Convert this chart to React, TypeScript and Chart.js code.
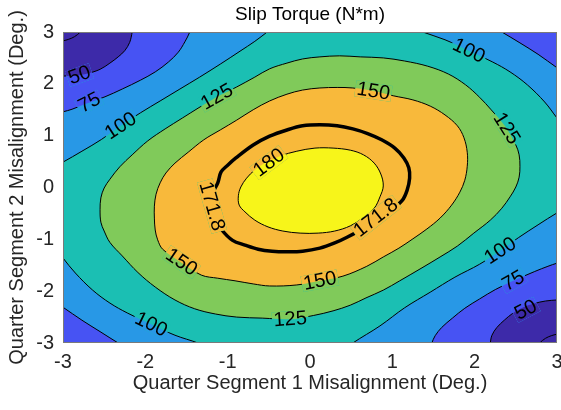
import React, { useEffect, useRef } from 'react';
import { Chart, registerables } from 'chart.js';

Chart.register(...registerables);

const TITLE = 'Slip Torque (N*m)';
const X_TITLE = 'Quarter Segment 1 Misalignment (Deg.)';
const Y_TITLE = 'Quarter Segment 2 Misalignment (Deg.)';
const FONT = "'Liberation Sans', Arial, Helvetica, sans-serif";

const xTicks = [-3, -2, -1, 0, 1, 2, 3];
const yTicks = [-3, -2, -1, 0, 1, 2, 3];
const xTickLabels = ['-3', '-2', '-1', '0', '1', '2', '3'];
const yTickLabels = ['-3', '-2', '-1', '0', '1', '2', '3'];

// band colours (parula), low -> high
const colDarkBlue = '#3d2aa9';
const colBlue = '#4753f3';
const colLightBlue = '#2898e6';
const colTeal = '#1bbfb3';
const colGreen = '#80ca5a';
const colOrange = '#f8b93b';
const colYellow = '#f7f51a';

// contour lines, [x, y] (ends run just past the axes)
const c25TL = [[-3.12, 2.8], [-3.0, 2.83], [-2.93, 2.86], [-2.86, 2.91], [-2.79, 3.0], [-2.75, 3.1]];
const c25BR = [[3.12, -2.8], [3.0, -2.83], [2.93, -2.86], [2.86, -2.91], [2.79, -3.0], [2.75, -3.1]];

const c50TL = [[-3.15, 2.14], [-3.0, 2.15], [-2.85, 2.16], [-2.7, 2.2], [-2.55, 2.28], [-2.43, 2.4], [-2.33, 2.52], [-2.25, 2.64], [-2.19, 2.8], [-2.16, 3.0], [-2.15, 3.15]];
const c50BR = [[3.15, -2.16], [3.0, -2.17], [2.86, -2.19], [2.72, -2.24], [2.58, -2.32], [2.46, -2.43], [2.36, -2.56], [2.27, -2.7], [2.21, -2.85], [2.19, -3.0], [2.18, -3.15]];

const c75TL = [[-3.15, 1.4], [-3.0, 1.46], [-2.89, 1.51], [-2.73, 1.61], [-2.49, 1.75], [-2.28, 1.9], [-2.06, 2.07], [-1.88, 2.23], [-1.72, 2.42], [-1.6, 2.61], [-1.52, 2.81], [-1.46, 3.0], [-1.43, 3.15]];
const c75BR = [[3.15, -1.4], [3.0, -1.46], [2.89, -1.52], [2.73, -1.62], [2.47, -1.8], [2.25, -1.97], [2.06, -2.15], [1.88, -2.33], [1.73, -2.52], [1.6, -2.7], [1.52, -2.86], [1.48, -3.0], [1.45, -3.15]];
const c75TR = [[2.2, 3.12], [2.33, 3.0], [2.55, 2.79], [2.77, 2.57], [3.0, 2.31], [3.12, 2.18]];
const c75BL = [[-3.12, -2.18], [-3.0, -2.31], [-2.77, -2.56], [-2.55, -2.78], [-2.33, -3.0], [-2.2, -3.12]];

const c100TL = [[-3.2, 0.32], [-3.0, 0.49], [-2.77, 0.7], [-2.53, 0.93], [-2.3, 1.19], [-2.06, 1.44], [-1.82, 1.67], [-1.58, 1.9], [-1.34, 2.13], [-1.09, 2.38], [-0.85, 2.63], [-0.67, 2.82], [-0.52, 3.0], [-0.4, 3.15]];
const c100BR = [[3.2, -0.32], [3.0, -0.49], [2.77, -0.72], [2.53, -0.97], [2.31, -1.22], [2.06, -1.48], [1.76, -1.73], [1.46, -2.02], [1.15, -2.32], [0.85, -2.67], [0.52, -3.0], [0.4, -3.15]];
const c100TR = [[1.22, 3.1], [1.37, 3.0], [1.64, 2.85], [1.93, 2.64], [2.22, 2.42], [2.43, 2.23], [2.64, 1.98], [2.85, 1.65], [3.0, 1.34], [3.08, 1.18]];
const c100BL = [[-3.08, -1.18], [-3.0, -1.36], [-2.85, -1.65], [-2.64, -1.98], [-2.43, -2.23], [-2.22, -2.42], [-1.93, -2.64], [-1.64, -2.85], [-1.36, -3.0], [-1.22, -3.1]];

const c125 = [[-1.13, 1.75], [-0.89, 1.94], [-0.67, 2.13], [-0.49, 2.29], [-0.28, 2.4], [-0.09, 2.48], [0.12, 2.52], [0.36, 2.54], [0.61, 2.52], [0.89, 2.5], [1.15, 2.44], [1.43, 2.34], [1.68, 2.19], [1.89, 1.98], [2.06, 1.74], [2.2, 1.5], [2.37, 1.18], [2.5, 0.82], [2.54, 0.63], [2.55, 0.41], [2.54, 0.2], [2.5, 0.01], [2.43, -0.18], [2.33, -0.4], [2.19, -0.63], [1.99, -0.88], [1.79, -1.13], [1.58, -1.34], [1.36, -1.55], [1.09, -1.8], [0.89, -1.98], [0.68, -2.13], [0.49, -2.27], [0.28, -2.38], [0.04, -2.47], [-0.24, -2.54], [-0.58, -2.52], [-0.89, -2.5], [-1.15, -2.44], [-1.4, -2.34], [-1.64, -2.17], [-1.88, -1.92], [-2.09, -1.64], [-2.28, -1.32], [-2.43, -1.06], [-2.5, -0.84], [-2.54, -0.67], [-2.55, -0.43], [-2.54, -0.2], [-2.5, -0.01], [-2.43, 0.16], [-2.31, 0.4], [-2.16, 0.63], [-1.97, 0.9], [-1.76, 1.13], [-1.55, 1.34], [-1.36, 1.53]];

const c150 = [[-1.57, -1.44], [-1.79, -1.19], [-1.85, -1.01], [-1.88, -0.82], [-1.89, -0.59], [-1.89, -0.36], [-1.87, -0.13], [-1.82, 0.09], [-1.75, 0.28], [-1.64, 0.47], [-1.48, 0.68], [-1.29, 0.92], [-1.09, 1.11], [-0.89, 1.3], [-0.69, 1.5], [-0.49, 1.67], [-0.28, 1.8], [-0.09, 1.88], [0.12, 1.92], [0.33, 1.93], [0.52, 1.92], [0.77, 1.86], [1.01, 1.77], [1.25, 1.69], [1.46, 1.57], [1.64, 1.4], [1.79, 1.19], [1.87, 0.96], [1.91, 0.68], [1.91, 0.41], [1.88, 0.14], [1.82, -0.09], [1.72, -0.34], [1.58, -0.59], [1.42, -0.8], [1.25, -0.99], [1.08, -1.17], [0.89, -1.34], [0.69, -1.52], [0.4, -1.71], [0.12, -1.8], [-0.16, -1.88], [-0.49, -1.9], [-0.69, -1.86], [-0.91, -1.8], [-1.12, -1.75], [-1.32, -1.69]];

const c172 = [[-1.2, -0.32], [-1.18, -0.1], [-1.12, 0.09], [-1.08, 0.3], [-1.0, 0.43], [-0.9, 0.57], [-0.69, 0.82], [-0.49, 0.99], [-0.28, 1.11], [-0.09, 1.19], [0.12, 1.21], [0.33, 1.19], [0.52, 1.13], [0.7, 1.04], [0.87, 0.92], [1.03, 0.76], [1.14, 0.57], [1.2, 0.38], [1.21, 0.18], [1.18, -0.05], [1.12, -0.25], [0.98, -0.44], [0.8, -0.6], [0.63, -0.8], [0.45, -0.96], [0.3, -1.07], [0.12, -1.17], [-0.09, -1.23], [-0.28, -1.24], [-0.46, -1.23], [-0.63, -1.19], [-0.79, -1.11], [-0.94, -1.02], [-1.07, -0.82], [-1.16, -0.58]];

const c180 = [[-0.53, 0.49], [-0.36, 0.61], [-0.16, 0.7], [0.06, 0.76], [0.28, 0.76], [0.49, 0.72], [0.65, 0.63], [0.78, 0.47], [0.86, 0.26], [0.89, 0.03], [0.85, -0.18], [0.78, -0.4], [0.64, -0.59], [0.49, -0.74], [0.3, -0.84], [0.1, -0.88], [-0.12, -0.88], [-0.33, -0.84], [-0.51, -0.76], [-0.67, -0.63], [-0.79, -0.47], [-0.86, -0.34], [-0.87, -0.16], [-0.84, 0.01], [-0.77, 0.18], [-0.67, 0.34]];

// off-axes corners used to close the corner regions
const cornerTL = [-3.4, 3.4];
const cornerTR = [3.4, 3.4];
const cornerBL = [-3.4, -3.4];
const cornerBR = [3.4, -3.4];

// contour labels: text, x, y, rotation (deg)
const contourLabels: [string, number, number, number][] = [
  ['50', -2.8, 2.17, -20],
  ['75', -2.68, 1.64, -27],
  ['100', -2.3, 1.19, -33],
  ['125', -1.13, 1.75, -29],
  ['100', 1.93, 2.64, 26],
  ['125', 2.39, 1.14, 58],
  ['150', 0.77, 1.86, 9],
  ['180', -0.5, 0.48, -37],
  ['171.8', -1.19, -0.36, 74],
  ['171.8', 0.8, -0.58, -38],
  ['150', -1.56, -1.44, 34],
  ['150', 0.12, -1.8, -11],
  ['125', -0.24, -2.54, -4],
  ['100', -1.93, -2.64, 26],
  ['100', 2.31, -1.22, -33],
  ['75', 2.47, -1.8, -30],
  ['50', 2.62, -2.36, -28],
];

type XY = number[][];
const toPts = (a: XY) => a.map(([x, y]) => ({ x, y }));
const closeCorner = (c: XY, corner: number[]) => [...c, corner, c[0]];
const closeLoop = (c: XY) => [...c, c[0]];

const regions: [XY, string][] = [
  [closeCorner(c100TL, cornerTL), colLightBlue],
  [closeCorner(c100TR, cornerTR), colLightBlue],
  [closeCorner(c100BL, cornerBL), colLightBlue],
  [closeCorner(c100BR, cornerBR), colLightBlue],
  [closeCorner(c75TL, cornerTL), colBlue],
  [closeCorner(c75TR, cornerTR), colBlue],
  [closeCorner(c75BL, cornerBL), colBlue],
  [closeCorner(c75BR, cornerBR), colBlue],
  [closeCorner(c50TL, cornerTL), colDarkBlue],
  [closeCorner(c50BR, cornerBR), colDarkBlue],
  [closeCorner(c25TL, cornerTL), colDarkBlue],
  [closeCorner(c25BR, cornerBR), colDarkBlue],
  [closeLoop(c125), colGreen],
  [closeLoop(c150), colOrange],
  [closeLoop(c180), colYellow],
];

const LABEL_SIZE = 20;

const decorPlugin = {
  id: 'contourDecor',
  beforeDatasetsDraw(chart: any) {
    const { ctx, chartArea: a } = chart;
    ctx.save();
    ctx.fillStyle = colTeal;
    ctx.fillRect(a.left, a.top, a.right - a.left, a.bottom - a.top);
    ctx.restore();
  },
  afterDatasetsDraw(chart: any) {
    const { ctx, chartArea: a, scales } = chart;
    const metas = chart.getSortedVisibleDatasetMetas().slice().reverse();
    const fills = metas.filter((m: any) => chart.data.datasets[m.index].fill === 'shape');
    ctx.save();
    ctx.font = `${LABEL_SIZE}px ${FONT}`;
    for (const [text, x, y, ang] of contourLabels) {
      const px = scales.x.getPixelForValue(x);
      const py = scales.y.getPixelForValue(y);
      const w = ctx.measureText(text).width + 3;
      const h = 16;
      const r = (ang * Math.PI) / 180;
      ctx.save();
      ctx.beginPath();
      ctx.rect(a.left, a.top, a.right - a.left, a.bottom - a.top);
      ctx.clip();
      ctx.translate(px, py);
      ctx.rotate(r);
      ctx.beginPath();
      ctx.rect(-w / 2, -h / 2, w, h);
      ctx.rotate(-r);
      ctx.translate(-px, -py);
      ctx.clip();
      ctx.fillStyle = colTeal;
      ctx.fillRect(a.left, a.top, a.right - a.left, a.bottom - a.top);
      for (const m of fills) {
        const line = m.dataset;
        ctx.beginPath();
        if (line && typeof line.path === 'function') {
          line.path(ctx);
        } else {
          m.data.forEach((p: any, i: number) => (i ? ctx.lineTo(p.x, p.y) : ctx.moveTo(p.x, p.y)));
        }
        ctx.closePath();
        ctx.fillStyle = chart.data.datasets[m.index].backgroundColor;
        ctx.fill();
      }
      ctx.restore();
      ctx.save();
      ctx.translate(px, py);
      ctx.rotate(r);
      ctx.fillStyle = '#000';
      ctx.textAlign = 'center';
      ctx.textBaseline = 'middle';
      ctx.fillText(text, 0, 0.5);
      ctx.restore();
    }
    ctx.strokeStyle = '#7a7a7a';
    ctx.lineWidth = 1;
    ctx.strokeRect(a.left + 0.5, a.top + 0.5, a.right - a.left - 1, a.bottom - a.top - 1);
    ctx.restore();
  },
};

export default function App() {
  const ref = useRef<HTMLCanvasElement>(null);
  useEffect(() => {
    const canvas = ref.current;
    if (!canvas) return;
    const n = regions.length;
    const datasets: any[] = regions.map(([pts, color], i) => ({
      data: toPts(pts),
      showLine: true,
      fill: 'shape',
      backgroundColor: color,
      borderColor: '#000',
      borderWidth: 1,
      pointRadius: 0,
      tension: 0.35,
      clip: 0,
      order: 100 - i,
    }));
    datasets.push({
      data: toPts(closeLoop(c172)),
      showLine: true,
      fill: false,
      borderColor: '#000',
      borderWidth: 3.5,
      pointRadius: 0,
      tension: 0.35,
      clip: 0,
      order: 100 - n,
    });
    const chart = new Chart(canvas, {
      type: 'scatter',
      data: { datasets },
      plugins: [decorPlugin],
      options: {
        responsive: false,
        animation: false,
        devicePixelRatio: 1,
        events: [],
        layout: { padding: { left: 0, right: 4, top: 0, bottom: 0 } },
        plugins: {
          legend: { display: false },
          tooltip: { enabled: false },
          title: {
            display: true,
            fullSize: false,
            text: TITLE,
            color: '#000',
            font: { family: FONT, size: 19, weight: 'normal', lineHeight: 1.2 },
            padding: { top: 3.5, bottom: 5.7 },
          },
        },
        scales: {
          x: {
            type: 'linear',
            min: -3,
            max: 3,
            grid: { display: false, drawTicks: false },
            border: { display: false },
            ticks: {
              stepSize: 1,
              autoSkip: false,
              maxRotation: 0,
              padding: 7,
              color: '#262626',
              font: { family: FONT, size: 20 },
              callback: (v: any) => {
                const i = xTicks.indexOf(Number(v));
                return i >= 0 ? xTickLabels[i] : '';
              },
            },
            title: {
              display: true,
              text: X_TITLE,
              color: '#262626',
              font: { family: FONT, size: 20, lineHeight: 1 },
              padding: { top: 0, bottom: 17 },
            },
            afterFit: (s: any) => {
              s.height = 67;
              s.paddingLeft = 0;
              s.paddingRight = 0;
            },
          },
          y: {
            type: 'linear',
            min: -3,
            max: 3,
            grid: { display: false, drawTicks: false },
            border: { display: false },
            ticks: {
              stepSize: 1,
              autoSkip: false,
              padding: 9,
              color: '#262626',
              font: { family: FONT, size: 20 },
              callback: (v: any) => {
                const i = yTicks.indexOf(Number(v));
                return i >= 0 ? yTickLabels[i] : '';
              },
            },
            title: {
              display: true,
              text: Y_TITLE,
              color: '#262626',
              font: { family: FONT, size: 20, lineHeight: 1 },
              padding: { top: 7, bottom: 0 },
            },
            afterFit: (s: any) => {
              s.width = 63;
              s.paddingTop = 0;
              s.paddingBottom = 0;
            },
          },
        },
      } as any,
    });
    return () => chart.destroy();
  }, []);
  return (
    <div style={{ position: 'absolute', left: 0, top: 0, width: 561, height: 410, background: '#fff' }}>
      <canvas ref={ref} width={561} height={410} style={{ display: 'block', width: 561, height: 410 }} />
    </div>
  );
}
